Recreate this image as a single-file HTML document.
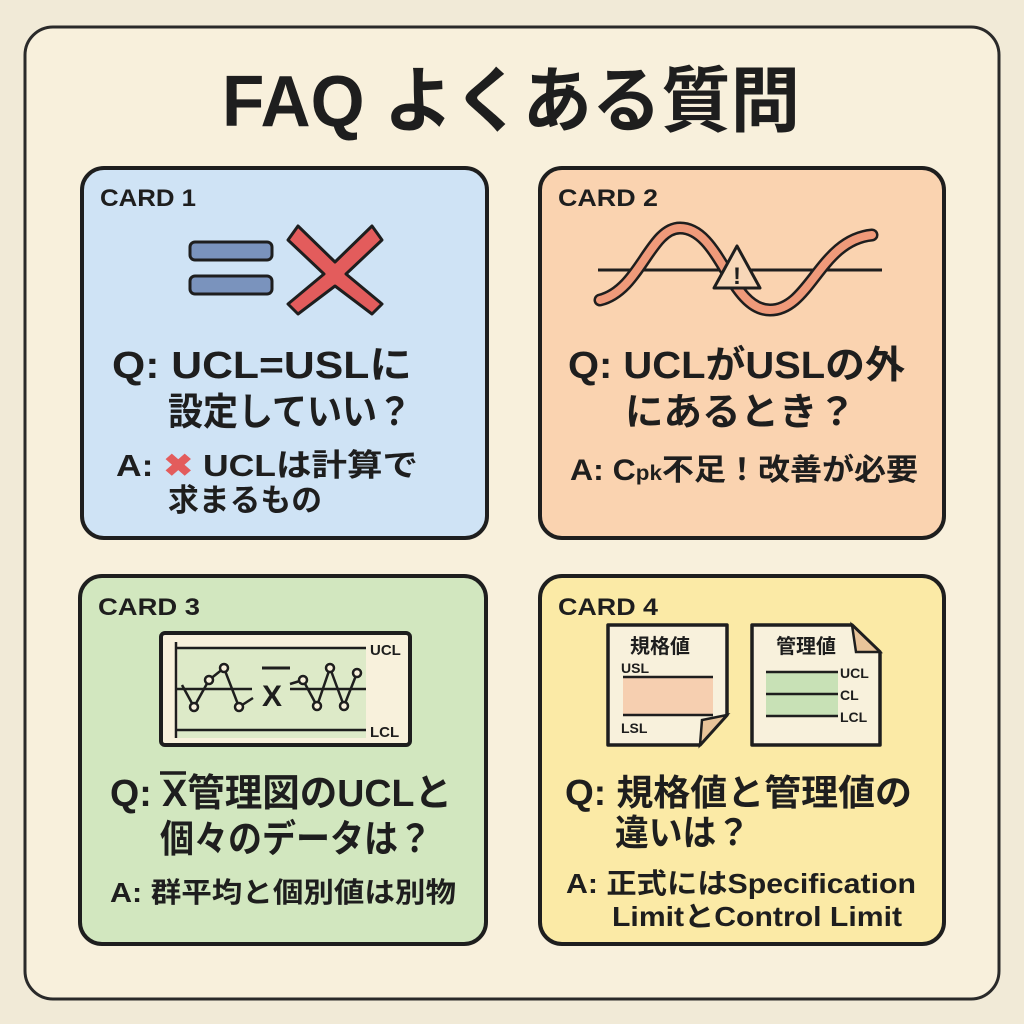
<!DOCTYPE html>
<html><head><meta charset="utf-8"><style>
body{margin:0;width:1024px;height:1024px;background:#f7efdc;overflow:hidden}
svg{display:block}
text{font-family:"Liberation Sans","Noto Sans CJK JP",sans-serif;font-weight:bold;fill:#1e1e1e}
</style></head><body>
<svg width="1024" height="1024" viewBox="0 0 1024 1024">
<rect x="0" y="0" width="1024" height="1024" fill="#f1ead7"/>
<rect x="25" y="27" width="974" height="972" rx="28" fill="#f8f0dc" stroke="#2a2a2a" stroke-width="3"/>
<text x="222" y="126" font-size="72" textLength="578" lengthAdjust="spacingAndGlyphs">FAQ よくある質問</text>

<rect x="82" y="168" width="405" height="370" rx="22" fill="#cfe3f5" stroke="#1e1e1e" stroke-width="4"/>
<rect x="540" y="168" width="404" height="370" rx="22" fill="#fad3b0" stroke="#1e1e1e" stroke-width="4"/>
<rect x="80" y="576" width="406" height="368" rx="22" fill="#d2e7bf" stroke="#1e1e1e" stroke-width="4"/>
<rect x="540" y="576" width="404" height="368" rx="22" fill="#fbeaa6" stroke="#1e1e1e" stroke-width="4"/>

<text x="100" y="206" font-size="24" textLength="96" lengthAdjust="spacingAndGlyphs">CARD 1</text>
<text x="558" y="206" font-size="24" textLength="100" lengthAdjust="spacingAndGlyphs">CARD 2</text>
<text x="98" y="615" font-size="24" textLength="102" lengthAdjust="spacingAndGlyphs">CARD 3</text>
<text x="558" y="615" font-size="24" textLength="100" lengthAdjust="spacingAndGlyphs">CARD 4</text>

<rect x="190" y="242" width="82" height="18" rx="5" fill="#7a93bd" stroke="#1e1e1e" stroke-width="3"/>
<rect x="190" y="276" width="82" height="18" rx="5" fill="#7a93bd" stroke="#1e1e1e" stroke-width="3"/>
<path d="M298 226 L335 262 L372 226 L382 240 L346 274 L382 304 L372 314 L335 286 L298 314 L288 304 L324 274 L288 240Z" fill="#e35c5c" stroke="#1e1e1e" stroke-width="3" stroke-linejoin="round"/>

<line x1="598" y1="270" x2="882" y2="270" stroke="#1e1e1e" stroke-width="3"/>
<path d="M600 300 C640 290 650 228 680 228 C720 228 730 310 770 310 C810 310 820 240 872 235" fill="none" stroke="#1e1e1e" stroke-width="13" stroke-linecap="round"/>
<path d="M600 300 C640 290 650 228 680 228 C720 228 730 310 770 310 C810 310 820 240 872 235" fill="none" stroke="#ef9a7a" stroke-width="8" stroke-linecap="round"/>
<path d="M737 246 L760 288 L714 288Z" fill="#f7d7b8" stroke="#1e1e1e" stroke-width="3" stroke-linejoin="round"/>
<text x="737" y="284" font-size="24" text-anchor="middle">!</text>

<rect x="161" y="633" width="249" height="112" rx="4" fill="#f8f1dc" stroke="#1e1e1e" stroke-width="4"/>
<rect x="178" y="648" width="188" height="90" fill="#d2e7bf" opacity=".7"/>
<line x1="176" y1="642" x2="176" y2="738" stroke="#1e1e1e" stroke-width="2.5"/>
<line x1="176" y1="648" x2="366" y2="648" stroke="#1e1e1e" stroke-width="2.5"/>
<line x1="176" y1="689" x2="252" y2="689" stroke="#1e1e1e" stroke-width="2.5"/>
<line x1="290" y1="689" x2="366" y2="689" stroke="#1e1e1e" stroke-width="2.5"/>
<line x1="176" y1="730" x2="366" y2="730" stroke="#1e1e1e" stroke-width="2.5"/>
<polyline points="182,685 194,707 209,680 224,668 239,707 253,698" fill="none" stroke="#1e1e1e" stroke-width="2.5"/>
<polyline points="290,684 303,680 317,706 330,668 344,706 357,673" fill="none" stroke="#1e1e1e" stroke-width="2.5"/>
<g fill="#f8f1dc" stroke="#1e1e1e" stroke-width="2.5"><circle cx="194" cy="707" r="4"/><circle cx="209" cy="680" r="4"/><circle cx="224" cy="668" r="4"/><circle cx="239" cy="707" r="4"/><circle cx="303" cy="680" r="4"/><circle cx="317" cy="706" r="4"/><circle cx="330" cy="668" r="4"/><circle cx="344" cy="706" r="4"/><circle cx="357" cy="673" r="4"/></g>
<text x="262" y="706" font-size="30">X</text><line x1="262" y1="668" x2="290" y2="668" stroke="#1e1e1e" stroke-width="3"/>
<text x="370" y="655" font-size="15">UCL</text>
<text x="370" y="737" font-size="15">LCL</text>

<path d="M608 625 H727 V715 L700 745 H608Z" fill="#f8f1dc" stroke="#1e1e1e" stroke-width="3.5" stroke-linejoin="round"/>
<path d="M727 715 L700 745 L702 720Z" fill="#e9c49a" stroke="#1e1e1e" stroke-width="2.5"/>
<rect x="623" y="678" width="90" height="36" fill="#f6cfb0"/>
<line x1="623" y1="677" x2="713" y2="677" stroke="#1e1e1e" stroke-width="2.5"/>
<line x1="623" y1="715" x2="713" y2="715" stroke="#1e1e1e" stroke-width="2.5"/>
<text x="630" y="653" font-size="20">規格値</text>
<text x="621" y="673" font-size="14">USL</text>
<text x="621" y="733" font-size="14">LSL</text>
<path d="M752 625 H852 L880 652 V745 H752Z" fill="#f8f1dc" stroke="#1e1e1e" stroke-width="3.5" stroke-linejoin="round"/>
<path d="M852 625 L880 652 H856Z" fill="#e9c49a" stroke="#1e1e1e" stroke-width="2.5"/>
<rect x="766" y="672" width="72" height="44" fill="#c8e1b6"/>
<line x1="766" y1="672" x2="838" y2="672" stroke="#1e1e1e" stroke-width="2.5"/>
<line x1="766" y1="694" x2="838" y2="694" stroke="#1e1e1e" stroke-width="2.5"/>
<line x1="766" y1="716" x2="838" y2="716" stroke="#1e1e1e" stroke-width="2.5"/>
<text x="776" y="653" font-size="20">管理値</text>
<text x="840" y="678" font-size="14">UCL</text>
<text x="840" y="700" font-size="14">CL</text>
<text x="840" y="722" font-size="14">LCL</text>

<text x="112" y="378" font-size="38" textLength="300" lengthAdjust="spacingAndGlyphs">Q: UCL=USLに</text>
<text x="168" y="425" font-size="38" textLength="244" lengthAdjust="spacingAndGlyphs">設定していい？</text>
<text x="116" y="476" font-size="31" textLength="302" lengthAdjust="spacingAndGlyphs">A: <tspan fill="#e35c5c">✖</tspan> UCLは計算で</text>
<text x="168" y="511" font-size="31" textLength="154" lengthAdjust="spacingAndGlyphs">求まるもの</text>

<text x="568" y="378" font-size="38" textLength="337" lengthAdjust="spacingAndGlyphs">Q: UCLがUSLの外</text>
<text x="625" y="425" font-size="38" textLength="231" lengthAdjust="spacingAndGlyphs">にあるとき？</text>
<text x="570" y="480" font-size="30" textLength="348" lengthAdjust="spacingAndGlyphs">A: C<tspan font-size="21">pk</tspan>不足！改善が必要</text>

<text x="110" y="806" font-size="38" textLength="342" lengthAdjust="spacingAndGlyphs">Q: X管理図のUCLと</text>
<line x1="160" y1="773" x2="186" y2="773" stroke="#1e1e1e" stroke-width="3.5"/>
<text x="160" y="852" font-size="38" textLength="272" lengthAdjust="spacingAndGlyphs">個々のデータは？</text>
<text x="110" y="902" font-size="28" textLength="346" lengthAdjust="spacingAndGlyphs">A: 群平均と個別値は別物</text>

<text x="565" y="805" font-size="36" textLength="347" lengthAdjust="spacingAndGlyphs">Q: 規格値と管理値の</text>
<text x="615" y="845" font-size="36" textLength="135" lengthAdjust="spacingAndGlyphs">違いは？</text>
<text x="566" y="893" font-size="28" textLength="350" lengthAdjust="spacingAndGlyphs">A: 正式にはSpecification</text>
<text x="612" y="926" font-size="28" textLength="290" lengthAdjust="spacingAndGlyphs">LimitとControl Limit</text>
</svg>
</body></html>
